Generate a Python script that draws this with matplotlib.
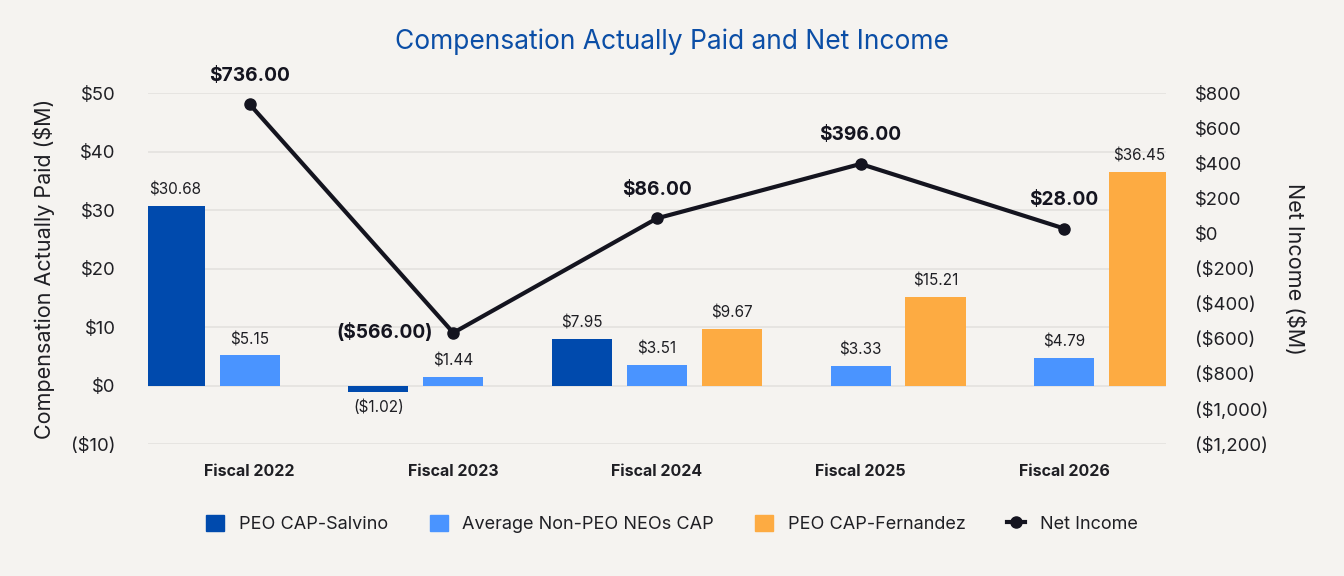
import numpy as np
import matplotlib.pyplot as plt
from matplotlib.lines import Line2D
from matplotlib.patches import Patch

plt.rcParams['font.family'] = ['Inter', 'DejaVu Sans']

years = ['Fiscal 2022', 'Fiscal 2023', 'Fiscal 2024', 'Fiscal 2025', 'Fiscal 2026']
cap_salvino = [30.68, -1.02, 7.95, np.nan, np.nan]
cap_neos = [5.15, 1.44, 3.51, 3.33, 4.79]
cap_fernandez = [np.nan, np.nan, 9.67, 15.21, 36.45]
net_income = [736, -566, 86, 396, 28]

left_ticks = [-10, 0, 10, 20, 30, 40, 50]
right_ticks = [-1200, -1000, -800, -600, -400, -200, 0, 200, 400, 600, 800]

bg = '#f5f3f0'
c_dark = '#004aad'
c_light = '#4a94ff'
c_orange = '#fdab42'
c_line = '#14141f'
c_text = '#1f1f24'


def money(v, dec=2):
    s = '${:,.{d}f}'.format(abs(v), d=dec)
    return '(' + s + ')' if v < 0 else s


fig = plt.figure(figsize=(13.44, 5.76), dpi=100, facecolor=bg)
ax = fig.add_axes([0.110, 0.229, 0.7576, 0.6095])
ax.set_facecolor(bg)
ax2 = ax.twinx()

x = np.arange(len(years))
w = 0.295
off = 0.368

series = [(cap_salvino, -off, c_dark), (cap_neos, 0, c_light), (cap_fernandez, off, c_orange)]
for vals, dx, col in series:
    vals = np.array(vals, dtype=float)
    m = ~np.isnan(vals)
    bars = ax.bar(x[m] + dx, vals[m], width=w, color=col, zorder=2)
    ax.bar_label(bars, labels=[money(v) for v in vals[m]], padding=6,
                 fontsize=11, color=c_text)

ax.set_xlim(-0.5, 4.5)
ax.set_ylim(-10, 50)
ax.set_yticks(left_ticks)
ax.set_yticklabels([money(v, 0) for v in left_ticks], fontsize=13.3, color=c_text)
ax.set_xticks(x)
ax.set_xticklabels(years, fontsize=11.5, fontweight='bold', color=c_text)
ax.tick_params(axis='x', length=0, pad=14)
ax.tick_params(axis='y', length=0, pad=23)
ax.grid(axis='y', color='#e4e2df', linewidth=1.2, zorder=0)
ax.set_axisbelow(True)
ax.set_ylabel('Compensation Actually Paid ($M)', fontsize=15.5, color=c_text, labelpad=12)

ax2.plot(x, net_income, color=c_line, linewidth=3, marker='o', markersize=8, zorder=5)
ax2.set_ylim(-1200, 800)
ax2.set_yticks(right_ticks)
ax2.set_yticklabels([money(v, 0) for v in right_ticks], fontsize=13.3, color=c_text)
ax2.tick_params(axis='y', length=0, pad=21)
ax2.set_ylabel('Net Income ($M)', fontsize=15.5, color=c_text, rotation=270, labelpad=26)

# net income labels: above the point, except the negative one which sits to the left
for i, v in enumerate(net_income):
    if v < 0:
        ax2.annotate(money(v), (x[i], v), xytext=(-15, 0), textcoords='offset points',
                     ha='right', va='center', fontsize=13.8, fontweight='bold', color=c_line)
    else:
        ax2.annotate(money(v), (x[i], v), xytext=(0, 14), textcoords='offset points',
                     ha='center', va='bottom', fontsize=13.8, fontweight='bold', color=c_line)

for a in (ax, ax2):
    for s in a.spines.values():
        s.set_visible(False)

fig.text(0.5, 0.928, 'Compensation Actually Paid and Net Income', ha='center', va='center',
         fontsize=19, color='#0b4ea6')

handles = [Patch(color=c_dark), Patch(color=c_light), Patch(color=c_orange),
           Line2D([], [], color=c_line, linewidth=3, marker='o', markersize=8)]
labels = ['PEO CAP-Salvino', 'Average Non-PEO NEOs CAP', 'PEO CAP-Fernandez', 'Net Income']
fig.legend(handles, labels, loc='center', bbox_to_anchor=(0.5, 0.090), ncol=4, frameon=False,
           fontsize=13, handlelength=1.0, handleheight=1.0, columnspacing=2.3,
           labelcolor=c_text)

fig.savefig('out.png', dpi=100, facecolor=bg)
